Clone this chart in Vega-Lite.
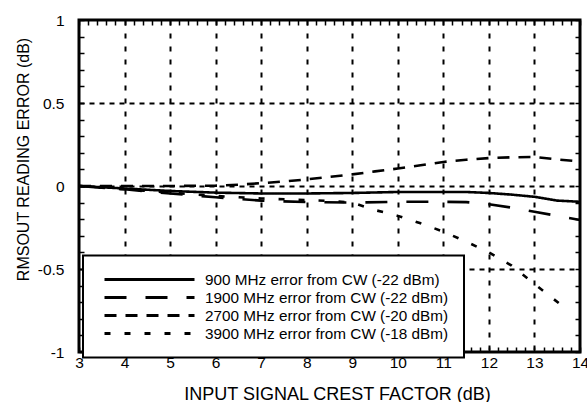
{
  "$schema": "https://vega.github.io/schema/vega-lite/v6.json",
  "width": 501,
  "height": 332,
  "autosize": "none",
  "padding": {"left": 79, "top": 20, "right": 7, "bottom": 50},
  "background": "white",
  "config": {
    "font": "Liberation Sans",
    "view": {"stroke": "black", "strokeWidth": 3},
    "axis": {"labelFont": "Liberation Sans", "titleFont": "Liberation Sans", "labelColor": "black", "titleColor": "black"},
    "legend": {"strokeColor": "black", "strokeWidth": 2, "fillColor": "white"}
  },
  "data": {
    "values": [
      {"series": "900 MHz error from CW (-22 dBm)", "x": 3, "y": 0},
      {"series": "900 MHz error from CW (-22 dBm)", "x": 4, "y": -0.015},
      {"series": "900 MHz error from CW (-22 dBm)", "x": 5, "y": -0.03},
      {"series": "900 MHz error from CW (-22 dBm)", "x": 6, "y": -0.04},
      {"series": "900 MHz error from CW (-22 dBm)", "x": 7, "y": -0.045},
      {"series": "900 MHz error from CW (-22 dBm)", "x": 8, "y": -0.045},
      {"series": "900 MHz error from CW (-22 dBm)", "x": 9, "y": -0.042},
      {"series": "900 MHz error from CW (-22 dBm)", "x": 10, "y": -0.036},
      {"series": "900 MHz error from CW (-22 dBm)", "x": 11, "y": -0.036},
      {"series": "900 MHz error from CW (-22 dBm)", "x": 11.5, "y": -0.036},
      {"series": "900 MHz error from CW (-22 dBm)", "x": 12, "y": -0.042},
      {"series": "900 MHz error from CW (-22 dBm)", "x": 12.5, "y": -0.052},
      {"series": "900 MHz error from CW (-22 dBm)", "x": 13, "y": -0.065},
      {"series": "900 MHz error from CW (-22 dBm)", "x": 13.5, "y": -0.088},
      {"series": "900 MHz error from CW (-22 dBm)", "x": 14, "y": -0.095},
      {"series": "1900 MHz error from CW (-22 dBm)", "x": 3, "y": 0},
      {"series": "1900 MHz error from CW (-22 dBm)", "x": 4, "y": -0.02},
      {"series": "1900 MHz error from CW (-22 dBm)", "x": 5, "y": -0.045},
      {"series": "1900 MHz error from CW (-22 dBm)", "x": 6, "y": -0.068},
      {"series": "1900 MHz error from CW (-22 dBm)", "x": 6.5, "y": -0.078},
      {"series": "1900 MHz error from CW (-22 dBm)", "x": 7, "y": -0.088},
      {"series": "1900 MHz error from CW (-22 dBm)", "x": 8, "y": -0.097},
      {"series": "1900 MHz error from CW (-22 dBm)", "x": 9, "y": -0.1},
      {"series": "1900 MHz error from CW (-22 dBm)", "x": 10, "y": -0.095},
      {"series": "1900 MHz error from CW (-22 dBm)", "x": 11, "y": -0.095},
      {"series": "1900 MHz error from CW (-22 dBm)", "x": 11.5, "y": -0.097},
      {"series": "1900 MHz error from CW (-22 dBm)", "x": 12, "y": -0.11},
      {"series": "1900 MHz error from CW (-22 dBm)", "x": 12.5, "y": -0.13},
      {"series": "1900 MHz error from CW (-22 dBm)", "x": 13, "y": -0.155},
      {"series": "1900 MHz error from CW (-22 dBm)", "x": 13.5, "y": -0.18},
      {"series": "1900 MHz error from CW (-22 dBm)", "x": 14, "y": -0.205},
      {"series": "2700 MHz error from CW (-20 dBm)", "x": 3, "y": 0},
      {"series": "2700 MHz error from CW (-20 dBm)", "x": 4, "y": 0},
      {"series": "2700 MHz error from CW (-20 dBm)", "x": 5, "y": 0},
      {"series": "2700 MHz error from CW (-20 dBm)", "x": 6, "y": 0.002},
      {"series": "2700 MHz error from CW (-20 dBm)", "x": 6.5, "y": 0.008},
      {"series": "2700 MHz error from CW (-20 dBm)", "x": 7, "y": 0.017},
      {"series": "2700 MHz error from CW (-20 dBm)", "x": 7.5, "y": 0.027},
      {"series": "2700 MHz error from CW (-20 dBm)", "x": 8, "y": 0.04},
      {"series": "2700 MHz error from CW (-20 dBm)", "x": 8.5, "y": 0.055},
      {"series": "2700 MHz error from CW (-20 dBm)", "x": 9, "y": 0.07},
      {"series": "2700 MHz error from CW (-20 dBm)", "x": 9.5, "y": 0.088},
      {"series": "2700 MHz error from CW (-20 dBm)", "x": 10, "y": 0.105},
      {"series": "2700 MHz error from CW (-20 dBm)", "x": 10.5, "y": 0.125},
      {"series": "2700 MHz error from CW (-20 dBm)", "x": 11, "y": 0.145},
      {"series": "2700 MHz error from CW (-20 dBm)", "x": 11.5, "y": 0.158},
      {"series": "2700 MHz error from CW (-20 dBm)", "x": 12, "y": 0.168},
      {"series": "2700 MHz error from CW (-20 dBm)", "x": 12.5, "y": 0.173},
      {"series": "2700 MHz error from CW (-20 dBm)", "x": 13, "y": 0.175},
      {"series": "2700 MHz error from CW (-20 dBm)", "x": 13.5, "y": 0.16},
      {"series": "2700 MHz error from CW (-20 dBm)", "x": 14, "y": 0.148},
      {"series": "3900 MHz error from CW (-18 dBm)", "x": 3, "y": 0},
      {"series": "3900 MHz error from CW (-18 dBm)", "x": 4, "y": -0.02},
      {"series": "3900 MHz error from CW (-18 dBm)", "x": 5, "y": -0.04},
      {"series": "3900 MHz error from CW (-18 dBm)", "x": 6, "y": -0.06},
      {"series": "3900 MHz error from CW (-18 dBm)", "x": 7, "y": -0.075},
      {"series": "3900 MHz error from CW (-18 dBm)", "x": 8, "y": -0.085},
      {"series": "3900 MHz error from CW (-18 dBm)", "x": 8.5, "y": -0.09},
      {"series": "3900 MHz error from CW (-18 dBm)", "x": 9, "y": -0.1},
      {"series": "3900 MHz error from CW (-18 dBm)", "x": 9.5, "y": -0.145},
      {"series": "3900 MHz error from CW (-18 dBm)", "x": 10, "y": -0.18},
      {"series": "3900 MHz error from CW (-18 dBm)", "x": 10.5, "y": -0.225},
      {"series": "3900 MHz error from CW (-18 dBm)", "x": 11, "y": -0.275},
      {"series": "3900 MHz error from CW (-18 dBm)", "x": 11.5, "y": -0.335},
      {"series": "3900 MHz error from CW (-18 dBm)", "x": 12, "y": -0.4},
      {"series": "3900 MHz error from CW (-18 dBm)", "x": 12.5, "y": -0.48},
      {"series": "3900 MHz error from CW (-18 dBm)", "x": 13, "y": -0.59},
      {"series": "3900 MHz error from CW (-18 dBm)", "x": 13.6, "y": -0.72}
    ]
  },
  "layer": [
    {
      "mark": {"type": "line", "color": "black", "strokeWidth": 2.6},
      "encoding": {
        "x": {
          "field": "x", "type": "quantitative",
          "scale": {"domain": [3, 14], "nice": false, "zero": false},
          "axis": {
            "orient": "bottom",
            "title": "INPUT SIGNAL CREST FACTOR (dB)",
            "titleFontSize": 18, "titleFontWeight": "normal",
            "titleBaseline": "alphabetic", "titleY": 47, "titleX": 258, "titleAlign": "center",
            "values": [3,3.2,3.4,3.6,3.8,4,4.2,4.4,4.6,4.8,5,5.2,5.4,5.6,5.8,6,6.2,6.4,6.6,6.8,7,7.2,7.4,7.6,7.8,8,8.2,8.4,8.6,8.8,9,9.2,9.4,9.6,9.8,10,10.2,10.4,10.6,10.8,11,11.2,11.4,11.6,11.8,12,12.2,12.4,12.6,12.8,13,13.2,13.4,13.6,13.8,14],
            "labelExpr": "abs(datum.value - round(datum.value)) < 0.001 ? toString(round(datum.value)) : ''",
            "labelFontSize": 15.5, "labelPadding": 8, "labelOverlap": false, "labelFlush": false, "labelBound": false,
            "domain": false,
            "ticks": true, "tickColor": "black", "tickWidth": 1.5, "tickSize": -5,
            "grid": true, "gridColor": "black", "gridWidth": 2, "gridDash": [5, 8],
            "gridOpacity": {"condition": {"test": "abs(datum.value - round(datum.value)) < 0.001 && datum.value > 3.5 && datum.value < 13.5", "value": 1}, "value": 0}
          }
        },
        "y": {
          "field": "y", "type": "quantitative",
          "scale": {"domain": [-1, 1], "nice": false, "zero": false},
          "axis": {
            "orient": "left",
            "title": "RMSOUT READING ERROR (dB)",
            "titleFontSize": 16, "titleFontWeight": "normal",
            "titleBaseline": "alphabetic", "titleX": -51, "titleY": 139, "titleAlign": "center",
            "values": [-1,-0.9,-0.8,-0.7,-0.6,-0.5,-0.4,-0.3,-0.2,-0.1,0,0.1,0.2,0.3,0.4,0.5,0.6,0.7,0.8,0.9,1],
            "labelExpr": "abs(datum.value*2 - round(datum.value*2)) < 0.001 ? toString(round(datum.value*2)/2) : ''",
            "labelFontSize": 15.5, "labelPadding": 20, "labelOverlap": false, "labelFlush": false, "labelBound": false,
            "domain": false,
            "ticks": true, "tickColor": "black", "tickWidth": 1.5, "tickSize": -5,
            "grid": true, "gridColor": "black", "gridWidth": 2, "gridDash": [5, 5],
            "gridOpacity": {"condition": {"test": "abs(datum.value*2 - round(datum.value*2)) < 0.001 && abs(datum.value) < 0.9", "value": 1}, "value": 0}
          }
        },
        "strokeDash": {
          "field": "series", "type": "nominal",
          "scale": {
            "domain": ["900 MHz error from CW (-22 dBm)", "1900 MHz error from CW (-22 dBm)", "2700 MHz error from CW (-20 dBm)", "3900 MHz error from CW (-18 dBm)"],
            "range": [[1, 0], [22, 19], [12, 9], [6, 14]]
          },
          "legend": {
            "orient": "none", "legendX": 4, "legendY": 235.5,
            "title": null,
            "symbolType": "M-6,0H6", "symbolSize": 225, "symbolStrokeWidth": 3, "symbolStrokeColor": "black",
            "symbolOffset": 42.5,
            "labelFont": "Liberation Sans", "labelFontSize": 15.3, "labelColor": "black", "labelOffset": 46.5, "labelLimit": 400,
            "labelExpr": "indexof(datum.label, '900 ') === 0 ? '\u2007' + datum.label : datum.label",
            "rowPadding": 0,
            "padding": 15,
            "strokeColor": "black", "fillColor": "white"
          }
        }
      }
    },
    {
      "mark": {"type": "line", "opacity": 0},
      "encoding": {
        "x": {
          "field": "x", "type": "quantitative",
          "axis": {
            "orient": "top", "title": null, "labels": false, "domain": false, "grid": false,
            "values": [3,3.2,3.4,3.6,3.8,4,4.2,4.4,4.6,4.8,5,5.2,5.4,5.6,5.8,6,6.2,6.4,6.6,6.8,7,7.2,7.4,7.6,7.8,8,8.2,8.4,8.6,8.8,9,9.2,9.4,9.6,9.8,10,10.2,10.4,10.6,10.8,11,11.2,11.4,11.6,11.8,12,12.2,12.4,12.6,12.8,13,13.2,13.4,13.6,13.8,14],
            "tickColor": "black", "tickWidth": 1.5, "tickSize": -5
          }
        },
        "y": {
          "field": "y", "type": "quantitative",
          "axis": {
            "orient": "right", "title": null, "labels": false, "domain": false, "grid": false,
            "values": [-1,-0.9,-0.8,-0.7,-0.6,-0.5,-0.4,-0.3,-0.2,-0.1,0,0.1,0.2,0.3,0.4,0.5,0.6,0.7,0.8,0.9,1],
            "tickColor": "black", "tickWidth": 1.5, "tickSize": -5
          }
        },
        "detail": {"field": "series", "type": "nominal"}
      }
    }
  ],
  "resolve": {"axis": {"x": "independent", "y": "independent"}}
}
